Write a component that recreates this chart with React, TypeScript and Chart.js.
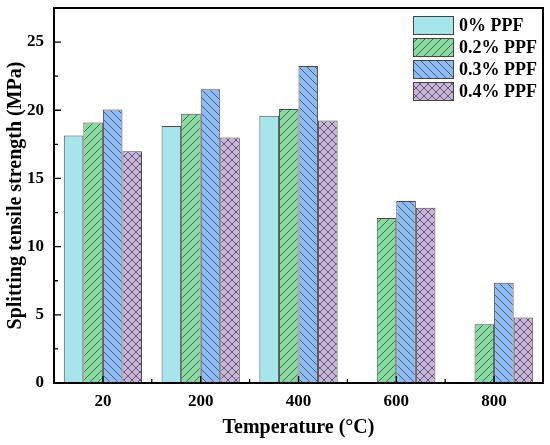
import React, { useEffect, useRef } from "react";
import { Chart, registerables } from "chart.js";

Chart.register(...registerables);

const categories = ["20", "200", "400", "600", "800"];
const series0 = [18.15, 18.85, 19.6, null, null];
const series1 = [19.1, 19.75, 20.1, 12.1, 4.3];
const series2 = [20.05, 21.55, 23.25, 13.35, 7.35];
const series3 = [17.0, 18.0, 19.25, 12.85, 4.8];
const seriesLabels = ["0% PPF", "0.2% PPF", "0.3% PPF", "0.4% PPF"];
const seriesColors = ["#a5e5eb", "#88dba0", "#8dbbf4", "#c9b4de"];
const seriesHatch = ["none", "fwd", "back", "cross"];
const yTicks = [0, 5, 10, 15, 20, 25];
const yMinorTicks = [2.5, 7.5, 12.5, 17.5, 22.5];
const yMax = 27.5;

const FONT = "'Liberation Serif', 'Times New Roman', serif";

function makePattern(bg: string, kind: string): CanvasPattern | string {
  if (kind === "none") return bg;
  const s = 8;
  const c = document.createElement("canvas");
  c.width = s;
  c.height = s;
  const ctx = c.getContext("2d")!;
  ctx.fillStyle = bg;
  ctx.fillRect(0, 0, s, s);
  ctx.strokeStyle = "#333";
  ctx.lineWidth = 0.7;
  ctx.beginPath();
  for (const k of [-s, 0, s]) {
    if (kind === "fwd" || kind === "cross") {
      ctx.moveTo(k, s);
      ctx.lineTo(k + s, 0);
    }
    if (kind === "back" || kind === "cross") {
      ctx.moveTo(k, 0);
      ctx.lineTo(k + s, s);
    }
  }
  ctx.stroke();
  return ctx.createPattern(c, "repeat")!;
}

const framePlugin = {
  id: "frameTicks",
  afterDatasetsDraw(chart: any) {
    const { ctx, chartArea } = chart;
    const xs = chart.scales.x;
    const ys = chart.scales.y;
    ctx.save();
    ctx.strokeStyle = "#000";
    ctx.lineWidth = 1.3;
    ctx.beginPath();
    for (const v of yTicks) {
      const py = ys.getPixelForValue(v);
      ctx.moveTo(chartArea.left, py);
      ctx.lineTo(chartArea.left + 7, py);
    }
    for (const v of yMinorTicks) {
      const py = ys.getPixelForValue(v);
      ctx.moveTo(chartArea.left, py);
      ctx.lineTo(chartArea.left + 4, py);
    }
    for (let i = 0; i < categories.length; i++) {
      const px = xs.getPixelForValue(i);
      ctx.moveTo(px, chartArea.bottom);
      ctx.lineTo(px, chartArea.bottom - 7);
      if (i < categories.length - 1) {
        const pm = xs.getPixelForValue(i + 0.5);
        ctx.moveTo(pm, chartArea.bottom);
        ctx.lineTo(pm, chartArea.bottom - 4);
      }
    }
    ctx.stroke();
    ctx.lineWidth = 2;
    ctx.strokeRect(
      chartArea.left,
      chartArea.top,
      chartArea.right - chartArea.left,
      chartArea.bottom - chartArea.top
    );
    // legend
    const bx = chartArea.right - 130;
    const bw = 41;
    const bh = 19;
    const rowH = 22;
    const by0 = chartArea.top + 8;
    ctx.font = `bold 18px ${FONT}`;
    ctx.textBaseline = "middle";
    ctx.textAlign = "left";
    chart.data.datasets.forEach((ds: any, i: number) => {
      const by = by0 + i * rowH;
      ctx.fillStyle = ds.backgroundColor;
      ctx.fillRect(bx, by, bw, bh);
      ctx.lineWidth = 1;
      ctx.strokeStyle = "#444";
      ctx.strokeRect(bx + 0.5, by + 0.5, bw - 1, bh - 1);
      ctx.fillStyle = "#000";
      ctx.fillText(ds.label, bx + bw + 5, by + bh / 2 + 1);
    });
    ctx.restore();
  },
};

export default function App() {
  const ref = useRef<HTMLCanvasElement>(null);
  useEffect(() => {
    document.body.style.margin = "0";
    const seriesData = [series0, series1, series2, series3];
    const chart = new Chart(ref.current!, {
      type: "bar",
      data: {
        labels: categories,
        datasets: seriesData.map((d, i) => ({
          label: seriesLabels[i],
          data: d,
          backgroundColor: makePattern(seriesColors[i], seriesHatch[i]) as any,
          borderColor: "#4a4a4a",
          borderWidth: 1,
          categoryPercentage: 0.8,
          barPercentage: 1.0,
        })),
      },
      options: {
        animation: false,
        responsive: false,
        devicePixelRatio: 1,
        layout: { padding: { top: 8, right: 7, left: 0, bottom: 0 } },
        plugins: { legend: { display: false }, tooltip: { enabled: false } },
        scales: {
          x: {
            grid: { display: false, drawTicks: false },
            border: { display: false },
            ticks: {
              color: "#000",
              font: { family: FONT, size: 17, weight: "bold" },
              padding: 8,
            },
            title: {
              display: true,
              text: "Temperature (°C)",
              color: "#000",
              font: { family: FONT, size: 20, weight: "bold" },
              padding: { top: 0, bottom: 5 },
            },
            afterFit: (scale: any) => {
              scale.height = 62;
              scale.paddingLeft = 0;
              scale.paddingRight = 0;
            },
          },
          y: {
            min: 0,
            max: yMax,
            grid: { display: false, drawTicks: false },
            border: { display: false },
            afterBuildTicks: (axis: any) => {
              axis.ticks = yTicks.map((v) => ({ value: v }));
            },
            ticks: {
              color: "#000",
              font: { family: FONT, size: 17, weight: "bold" },
              padding: 10,
            },
            title: {
              display: true,
              text: "Splitting tensile strength (MPa)",
              color: "#000",
              font: { family: FONT, size: 20, weight: "bold" },
              padding: { top: 4, bottom: 0 },
            },
            afterFit: (scale: any) => {
              scale.width = 54;
              scale.paddingTop = 0;
              scale.paddingBottom = 0;
            },
          },
        },
      },
      plugins: [framePlugin],
    });
    return () => chart.destroy();
  }, []);
  return <canvas ref={ref} width={550} height={445} style={{ display: "block" }} />;
}
